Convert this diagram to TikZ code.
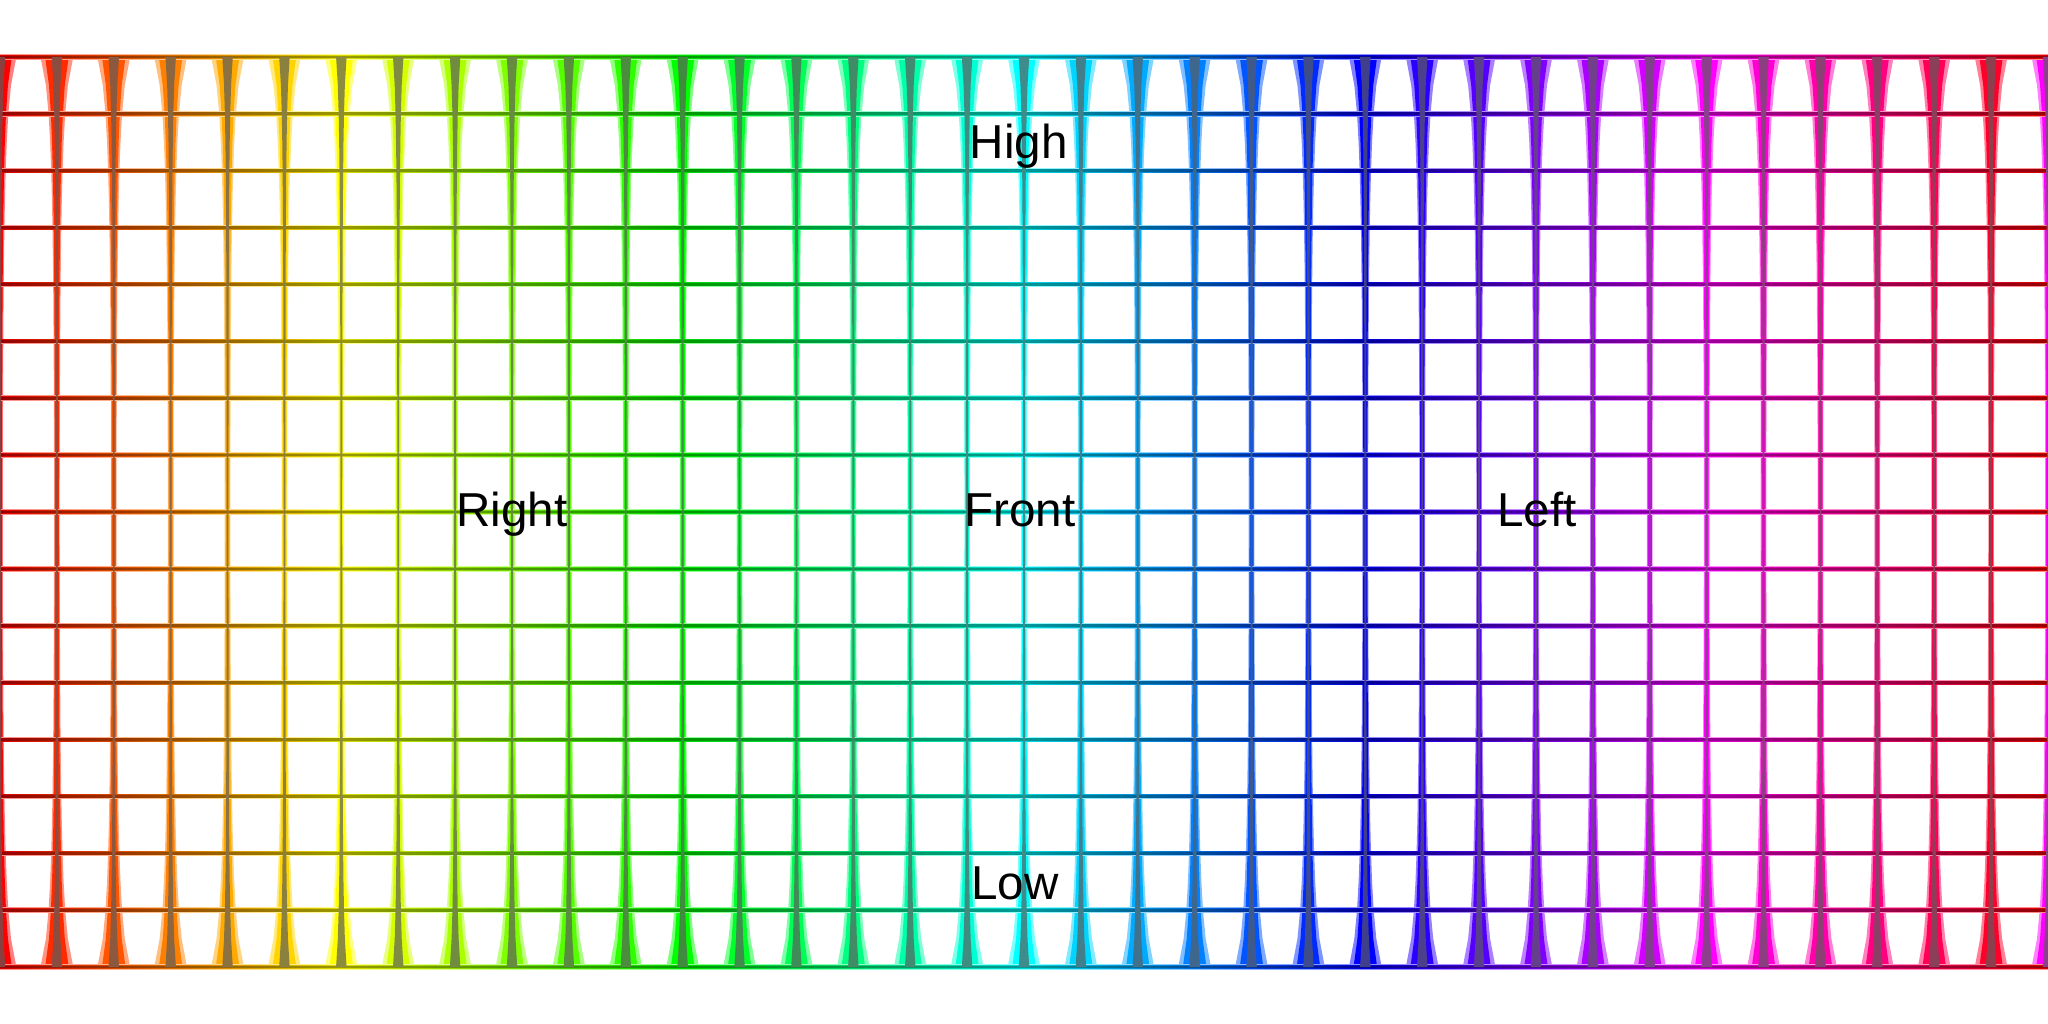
\documentclass[tikz,border=0pt]{standalone}
\usepackage{fontspec}
\setmainfont{Liberation Sans}

% hue bands for the parallels (the middle 25bp--75bp spans the path)
\pgfdeclarehorizontalshading{huelight}{100bp}{color(0bp)=(red!45!white); color(25bp)=(red!45!white);
  color(33.333bp)=(yellow!45!white); color(41.667bp)=(green!45!white); color(50bp)=(cyan!45!white);
  color(58.333bp)=(blue!45!white); color(66.667bp)=(magenta!45!white); color(75bp)=(red!45!white);
  color(100bp)=(red!45!white)}
\pgfdeclarehorizontalshading{huemid}{100bp}{color(0bp)=(red!85!black); color(25bp)=(red!85!black);
  color(33.333bp)=(yellow!85!black); color(41.667bp)=(green!85!black); color(50bp)=(cyan!85!black);
  color(58.333bp)=(blue!85!black); color(66.667bp)=(magenta!85!black); color(75bp)=(red!85!black);
  color(100bp)=(red!85!black)}
\pgfdeclarehorizontalshading{huedark}{100bp}{color(0bp)=(red!60!black); color(25bp)=(red!60!black);
  color(33.333bp)=(yellow!60!black); color(41.667bp)=(green!60!black); color(50bp)=(cyan!60!black);
  color(58.333bp)=(blue!60!black); color(66.667bp)=(magenta!60!black); color(75bp)=(red!60!black);
  color(100bp)=(red!60!black)}

\begin{document}
\begin{tikzpicture}[
        x=0.5cm, y=0.5cm,
        lbl/.style={
            inner sep=0pt,
            anchor=base,
            font=\fontsize{11.9}{14}\selectfont
        }
    ]
        \useasboundingbox (0,0) rectangle (36,18);
        \fill[white] (0,0) rectangle (36,18);
        \clip (0,0) rectangle (36,18);

        % meridians: widened towards the poles
        \foreach \i [evaluate=\i as \h using \i*10] in {0,...,36} {
            \definecolor{mer}{Hsb}{\h,1,1}
            \foreach \w/\c in {0.050/mer!50!white, 0.036/mer} {
                \fill[\c] plot[domain=-80:80, samples=33, variable=\t] ({\i+\w/cos(\t)}, {9+\t/10})
                    -- plot[domain=80:-80, samples=33, variable=\t] ({\i-\w/cos(\t)}, {9+\t/10}) -- cycle;
            }
        }

        % parallels
        \foreach \j in {1,...,17} {
            \shade[shading=huelight] (0,\j-0.040) rectangle (36,\j+0.040);
            \shade[shading=huemid] (0,\j-0.027) rectangle (36,\j+0.027);
            \shade[shading=huedark] (0,\j-0.014) rectangle (36,\j+0.014);
        }

        % meridian cores
        \foreach \i [evaluate=\i as \h using \i*10] in {0,...,36} {
            \definecolor{mer}{Hsb}{\h,1,1}
            \fill[mer!55!black] plot[domain=-80:80, samples=33, variable=\t] ({\i+0.016/cos(\t)}, {9+\t/10})
                -- plot[domain=80:-80, samples=33, variable=\t] ({\i-0.016/cos(\t)}, {9+\t/10}) -- cycle;
        }

        \node[lbl] (high) at (17.91,15.22) {High};
        \node[lbl] (right) at (9.0,8.74) {Right};
        \node[lbl] (front) at (17.93,8.74) {Front};
        \node[lbl] (left) at (27.02,8.74) {Left};
        \node[lbl] (low) at (17.84,2.18) {Low};
    \end{tikzpicture}
\end{document}
